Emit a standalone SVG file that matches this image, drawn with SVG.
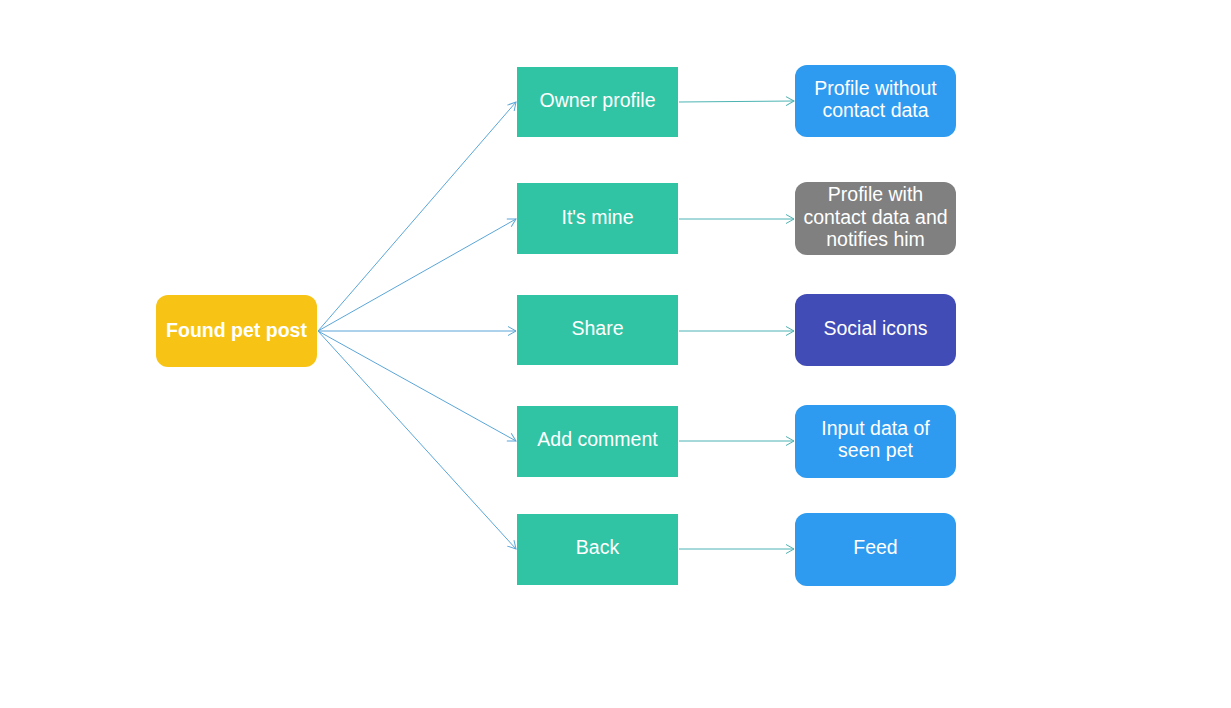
<svg xmlns="http://www.w3.org/2000/svg" width="1231" height="708" viewBox="0 0 1231 708">
<defs>
<marker id="arr" markerWidth="12" markerHeight="12" refX="10" refY="6" orient="auto" markerUnits="userSpaceOnUse">
<path d="M2,1.5 L10,6 L2,10.5" fill="none" stroke="#5aa6d8" stroke-width="1"/>
</marker>
<marker id="arr2" markerWidth="12" markerHeight="12" refX="10" refY="6" orient="auto" markerUnits="userSpaceOnUse">
<path d="M2,1.5 L10,6 L2,10.5" fill="none" stroke="#4db3b3" stroke-width="1"/>
</marker>
<style>
text{font-family:"Liberation Sans",Arial,sans-serif;font-size:19.5px;fill:#fff;text-anchor:middle}
.fan{stroke:#5aa6d8;stroke-width:1;fill:none;marker-end:url(#arr)}
.rt{stroke:#4db3b3;stroke-width:1;fill:none;marker-end:url(#arr2)}
.g{fill:#31c4a4}
.b{fill:#2e9bf0}
</style>
</defs>
<rect width="1231" height="708" fill="#fff"/>
<g id="connectors">
<line class="fan" x1="318" y1="331" x2="516" y2="102"/>
<line class="fan" x1="318" y1="331" x2="516" y2="219"/>
<line class="fan" x1="318" y1="331" x2="516" y2="331"/>
<line class="fan" x1="318" y1="331" x2="516" y2="441"/>
<line class="fan" x1="318" y1="331" x2="516" y2="549"/>
<line class="rt" x1="679" y1="102" x2="794" y2="101"/>
<line class="rt" x1="679" y1="219" x2="794" y2="219"/>
<line class="rt" x1="679" y1="331" x2="794" y2="331"/>
<line class="rt" x1="679" y1="441" x2="794" y2="441"/>
<line class="rt" x1="679" y1="549" x2="794" y2="549"/>
</g>
<g id="found">
<rect x="156" y="295" width="161" height="72" rx="12" fill="#f7c415"/>
<text x="236.5" y="337" style="font-weight:bold">Found pet post</text>
</g>
<g id="owner">
<rect class="g" x="517" y="67" width="161" height="70"/>
<text x="597.5" y="107">Owner profile</text>
</g>
<g id="mine">
<rect class="g" x="517" y="183" width="161" height="71"/>
<text x="597.5" y="224">It's mine</text>
</g>
<g id="share">
<rect class="g" x="517" y="295" width="161" height="70"/>
<text x="597.5" y="335">Share</text>
</g>
<g id="comment">
<rect class="g" x="517" y="406" width="161" height="71"/>
<text x="597.5" y="446">Add comment</text>
</g>
<g id="back">
<rect class="g" x="517" y="514" width="161" height="71"/>
<text x="597.5" y="554">Back</text>
</g>
<g id="nocontact">
<rect class="b" x="795" y="65" width="161" height="72" rx="12"/>
<text x="875.5" y="95">Profile without</text>
<text x="875.5" y="117">contact data</text>
</g>
<g id="withcontact">
<rect x="795" y="182" width="161" height="73" rx="12" fill="#808080"/>
<text x="875.5" y="201">Profile with</text>
<text x="875.5" y="224">contact data and</text>
<text x="875.5" y="246">notifies him</text>
</g>
<g id="social">
<rect x="795" y="294" width="161" height="72" rx="12" fill="#424cb6"/>
<text x="875.5" y="335">Social icons</text>
</g>
<g id="input">
<rect class="b" x="795" y="405" width="161" height="73" rx="12"/>
<text x="875.5" y="435">Input data of</text>
<text x="875.5" y="457">seen pet</text>
</g>
<g id="feed">
<rect class="b" x="795" y="513" width="161" height="73" rx="12"/>
<text x="875.5" y="554">Feed</text>
</g>
</svg>
